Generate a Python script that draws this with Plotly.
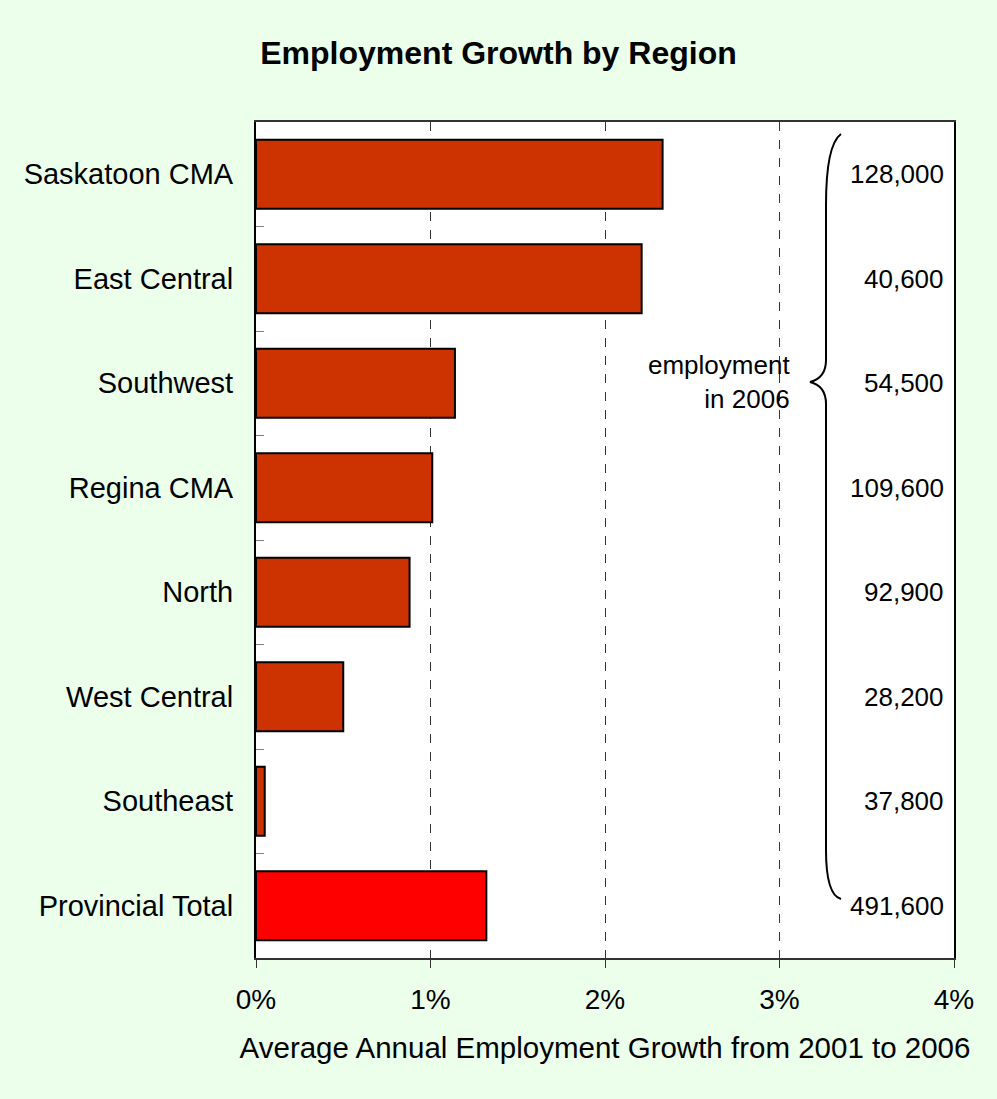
import plotly.graph_objects as go

C_BAR   = '#cc3300'
C_TOTAL = '#ff0000'
C_PAPER = '#ebffeb'
C_TEXT  = '#000000'

regions    = ['Saskatoon CMA', 'East Central', 'Southwest', 'Regina CMA',
              'North', 'West Central', 'Southeast', 'Provincial Total']
growth     = [2.33, 2.21, 1.14, 1.01, 0.88, 0.50, 0.05, 1.32]
employment = ['128,000', '40,600', '54,500', '109,600',
              '92,900', '28,200', '37,800', '491,600']
x_ticks    = [0, 1, 2, 3, 4]
x_labels   = ['0%', '1%', '2%', '3%', '4%']

FONT = 'Liberation Sans, Arial, sans-serif'

# plot area in pixels, used to place the brace in paper coords
L, R, T, B = 256, 954, 122, 958


def px(x, y):
    return (x - L) / (R - L), (B - y) / (B - T)


fig = go.Figure(go.Bar(
    y=regions, x=[g / 100 for g in growth], orientation='h',
    marker=dict(color=[C_TOTAL if r == 'Provincial Total' else C_BAR for r in regions],
                line=dict(color='#000000', width=2)),
    hovertemplate='<b>%{y}</b><br>%{x:.2%}<extra></extra>',
))

annotations = [dict(
    x=0.988, y=r, xref='paper', yref='y', text=e, showarrow=False,
    xanchor='right', yanchor='middle', font=dict(size=26, color=C_TEXT),
) for r, e in zip(regions, employment)]

ex, ey = px(792, 382)
annotations.append(dict(
    x=ex, y=ey, xref='paper', yref='paper', text='employment<br>in 2006',
    showarrow=False, xanchor='right', yanchor='middle', align='right',
    font=dict(size=26, color=C_TEXT),
))

# curly brace
pts = [(841, 134), (826, 145), (826, 205), (826, 360), (826, 378), (810, 382),
       (826, 386), (826, 404), (826, 850), (826, 895), (841, 899)]
p = [px(*q) for q in pts]
path = (f'M {p[0][0]},{p[0][1]} Q {p[1][0]},{p[1][1]} {p[2][0]},{p[2][1]} '
        f'L {p[3][0]},{p[3][1]} Q {p[4][0]},{p[4][1]} {p[5][0]},{p[5][1]} '
        f'Q {p[6][0]},{p[6][1]} {p[7][0]},{p[7][1]} '
        f'L {p[8][0]},{p[8][1]} Q {p[9][0]},{p[9][1]} {p[10][0]},{p[10][1]}')

fig.update_layout(
    width=997, height=1099,
    paper_bgcolor=C_PAPER, plot_bgcolor='#ffffff',
    font=dict(family=FONT, color=C_TEXT, size=28),
    margin=dict(l=L, r=997 - R, t=T, b=1099 - B),
    title=dict(text='<b>Employment Growth by Region</b>', x=0.5, xanchor='center',
               y=1 - 53 / 1099, yanchor='middle', font=dict(size=32)),
    showlegend=False, bargap=0.34,
    xaxis=dict(range=[0, 0.04], tickvals=[t / 100 for t in x_ticks], ticktext=x_labels,
               showgrid=True, gridcolor='#333333', griddash='dash', gridwidth=1,
               showline=True, linecolor='#333333', linewidth=2, mirror=True,
               ticks='outside', ticklen=8, tickcolor='#333333', zeroline=False,
               tickfont=dict(size=28), ticklabelstandoff=7,
               title=dict(text='Average Annual Employment Growth from 2001 to 2006',
                          font=dict(size=29.5), standoff=24)),
    yaxis=dict(autorange='reversed', categoryorder='array', categoryarray=regions,
               showline=True, linecolor='#000000', linewidth=2, mirror=True,
               ticks='inside', tickson='boundaries', ticklen=8, tickcolor='#808080',
               showgrid=False, ticklabelstandoff=15, tickfont=dict(size=29)),
    annotations=annotations,
    shapes=[dict(type='path', path=path, xref='paper', yref='paper',
                 line=dict(color='#000000', width=2))],
)

fig.write_html('out.html', config={'displayModeBar': False},
               post_script="document.body.style.margin='0';")
